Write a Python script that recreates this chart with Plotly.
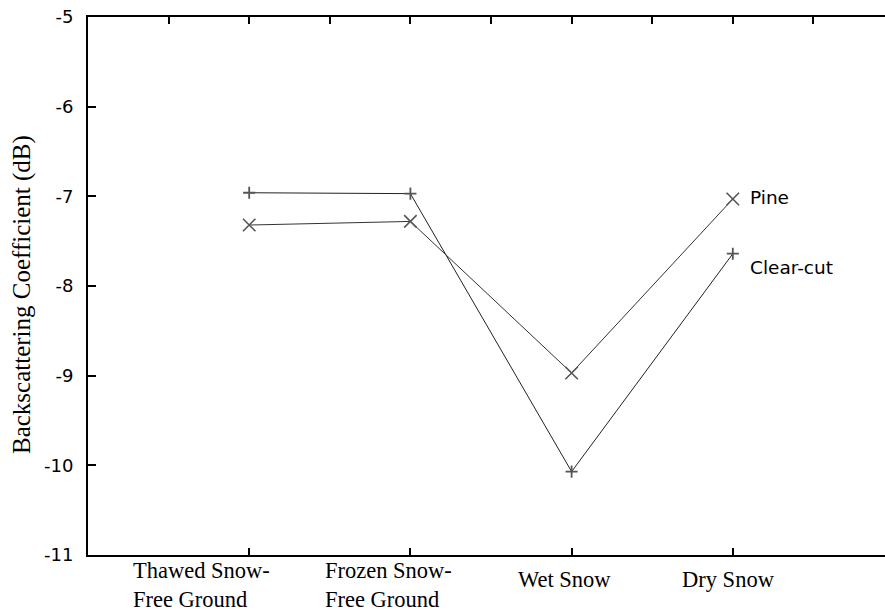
import plotly.graph_objects as go

categories = ["Thawed Snow-<br>Free Ground", "Frozen Snow-<br>Free Ground", "Wet Snow", "Dry Snow"]
cat_pos = [1, 2, 3, 4]
pine = [-7.32, -7.28, -8.97, -7.03]
clearcut = [-6.96, -6.97, -10.07, -7.64]
y_ticks = [-11, -10, -9, -8, -7, -6, -5]
top_ticks = [0.5, 1, 1.5, 2, 2.5, 3, 3.5, 4, 4.5]

W, H = 885, 614
L, R, T, B = 88, 0, 17, 59
unit = 161.2
xr = [0, (W - L - R) / unit]

fig = go.Figure()
fig.add_trace(go.Scatter(
    x=cat_pos, y=clearcut, mode="lines+markers", name="Clear-cut",
    line=dict(color="#222222", width=1),
    marker=dict(symbol="cross-thin", size=8.6, color="#555555",
                line=dict(color="#555555", width=1.8)),
    showlegend=False, cliponaxis=False))
fig.add_trace(go.Scatter(
    x=cat_pos, y=pine, mode="lines+markers", name="Pine",
    line=dict(color="#333333", width=1),
    marker=dict(symbol="x-thin", size=12.5, color="#555555",
                line=dict(color="#555555", width=1.6)),
    showlegend=False, cliponaxis=False))
# dummy trace for top axis
fig.add_trace(go.Scatter(x=[1], y=[-8], xaxis="x2", mode="markers",
                         marker=dict(opacity=0), hoverinfo="skip", showlegend=False))

ann = []
placement = [(-117, "left", "bottom", -58), (-86, "left", "bottom", -58),
             (-7, "center", "middle", -24), (-4, "center", "middle", -24)]
serif = dict(family="Liberation Serif", size=22.5, color="black")
for xp, lab, (xs, xa, ya, ys) in zip(cat_pos, categories, placement):
    ann.append(dict(x=xp, y=0, xref="x", yref="paper", text=lab, showarrow=False,
                    borderpad=0, xanchor=xa, yanchor=ya, align="left",
                    xshift=xs, yshift=ys, font=serif))
sans = dict(family="DejaVu Sans", size=18.5, color="black")
ann.append(dict(x=cat_pos[3], y=pine[3], xref="x", yref="y", text="Pine", showarrow=False,
                xanchor="left", yanchor="middle", xshift=15, yshift=2, font=sans))
ann.append(dict(x=cat_pos[3], y=clearcut[3], xref="x", yref="y", text="Clear-cut", showarrow=False,
                xanchor="left", yanchor="middle", xshift=15, yshift=-14, font=sans))
ann.append(dict(x=(22 - L) / (W - L - R), y=(H - B - 295) / (H - B - T), xref="paper", yref="paper",
                text="Backscattering Coefficient (dB)", showarrow=False, textangle=-90,
                xanchor="center", yanchor="middle",
                font=dict(family="Liberation Serif", size=25, color="black")))

fig.update_layout(
    width=W, height=H, margin=dict(l=L, r=R, t=T, b=B),
    paper_bgcolor="white", plot_bgcolor="white",
    annotations=ann,
    xaxis=dict(range=xr, tickvals=cat_pos, showticklabels=False, ticks="inside", ticklen=7,
               tickwidth=1.5, tickcolor="black", showline=True, linecolor="black", linewidth=2,
               showgrid=False, zeroline=False, fixedrange=True),
    xaxis2=dict(range=xr, overlaying="x", side="top", tickvals=top_ticks, showticklabels=False,
                ticks="inside", ticklen=7, tickwidth=1.5, tickcolor="black", showline=True,
                linecolor="black", linewidth=2, showgrid=False, zeroline=False),
    yaxis=dict(range=[-11, -5], tickvals=y_ticks, ticktext=[str(v) for v in y_ticks],
               ticks="inside", ticklen=8, tickwidth=1.5, tickcolor="black", showline=True,
               linecolor="black", linewidth=2, showgrid=False, zeroline=False,
               ticklabelstandoff=9,
               tickfont=dict(family="DejaVu Sans", size=18, color="black")),
)
fig.write_html("out.html")
